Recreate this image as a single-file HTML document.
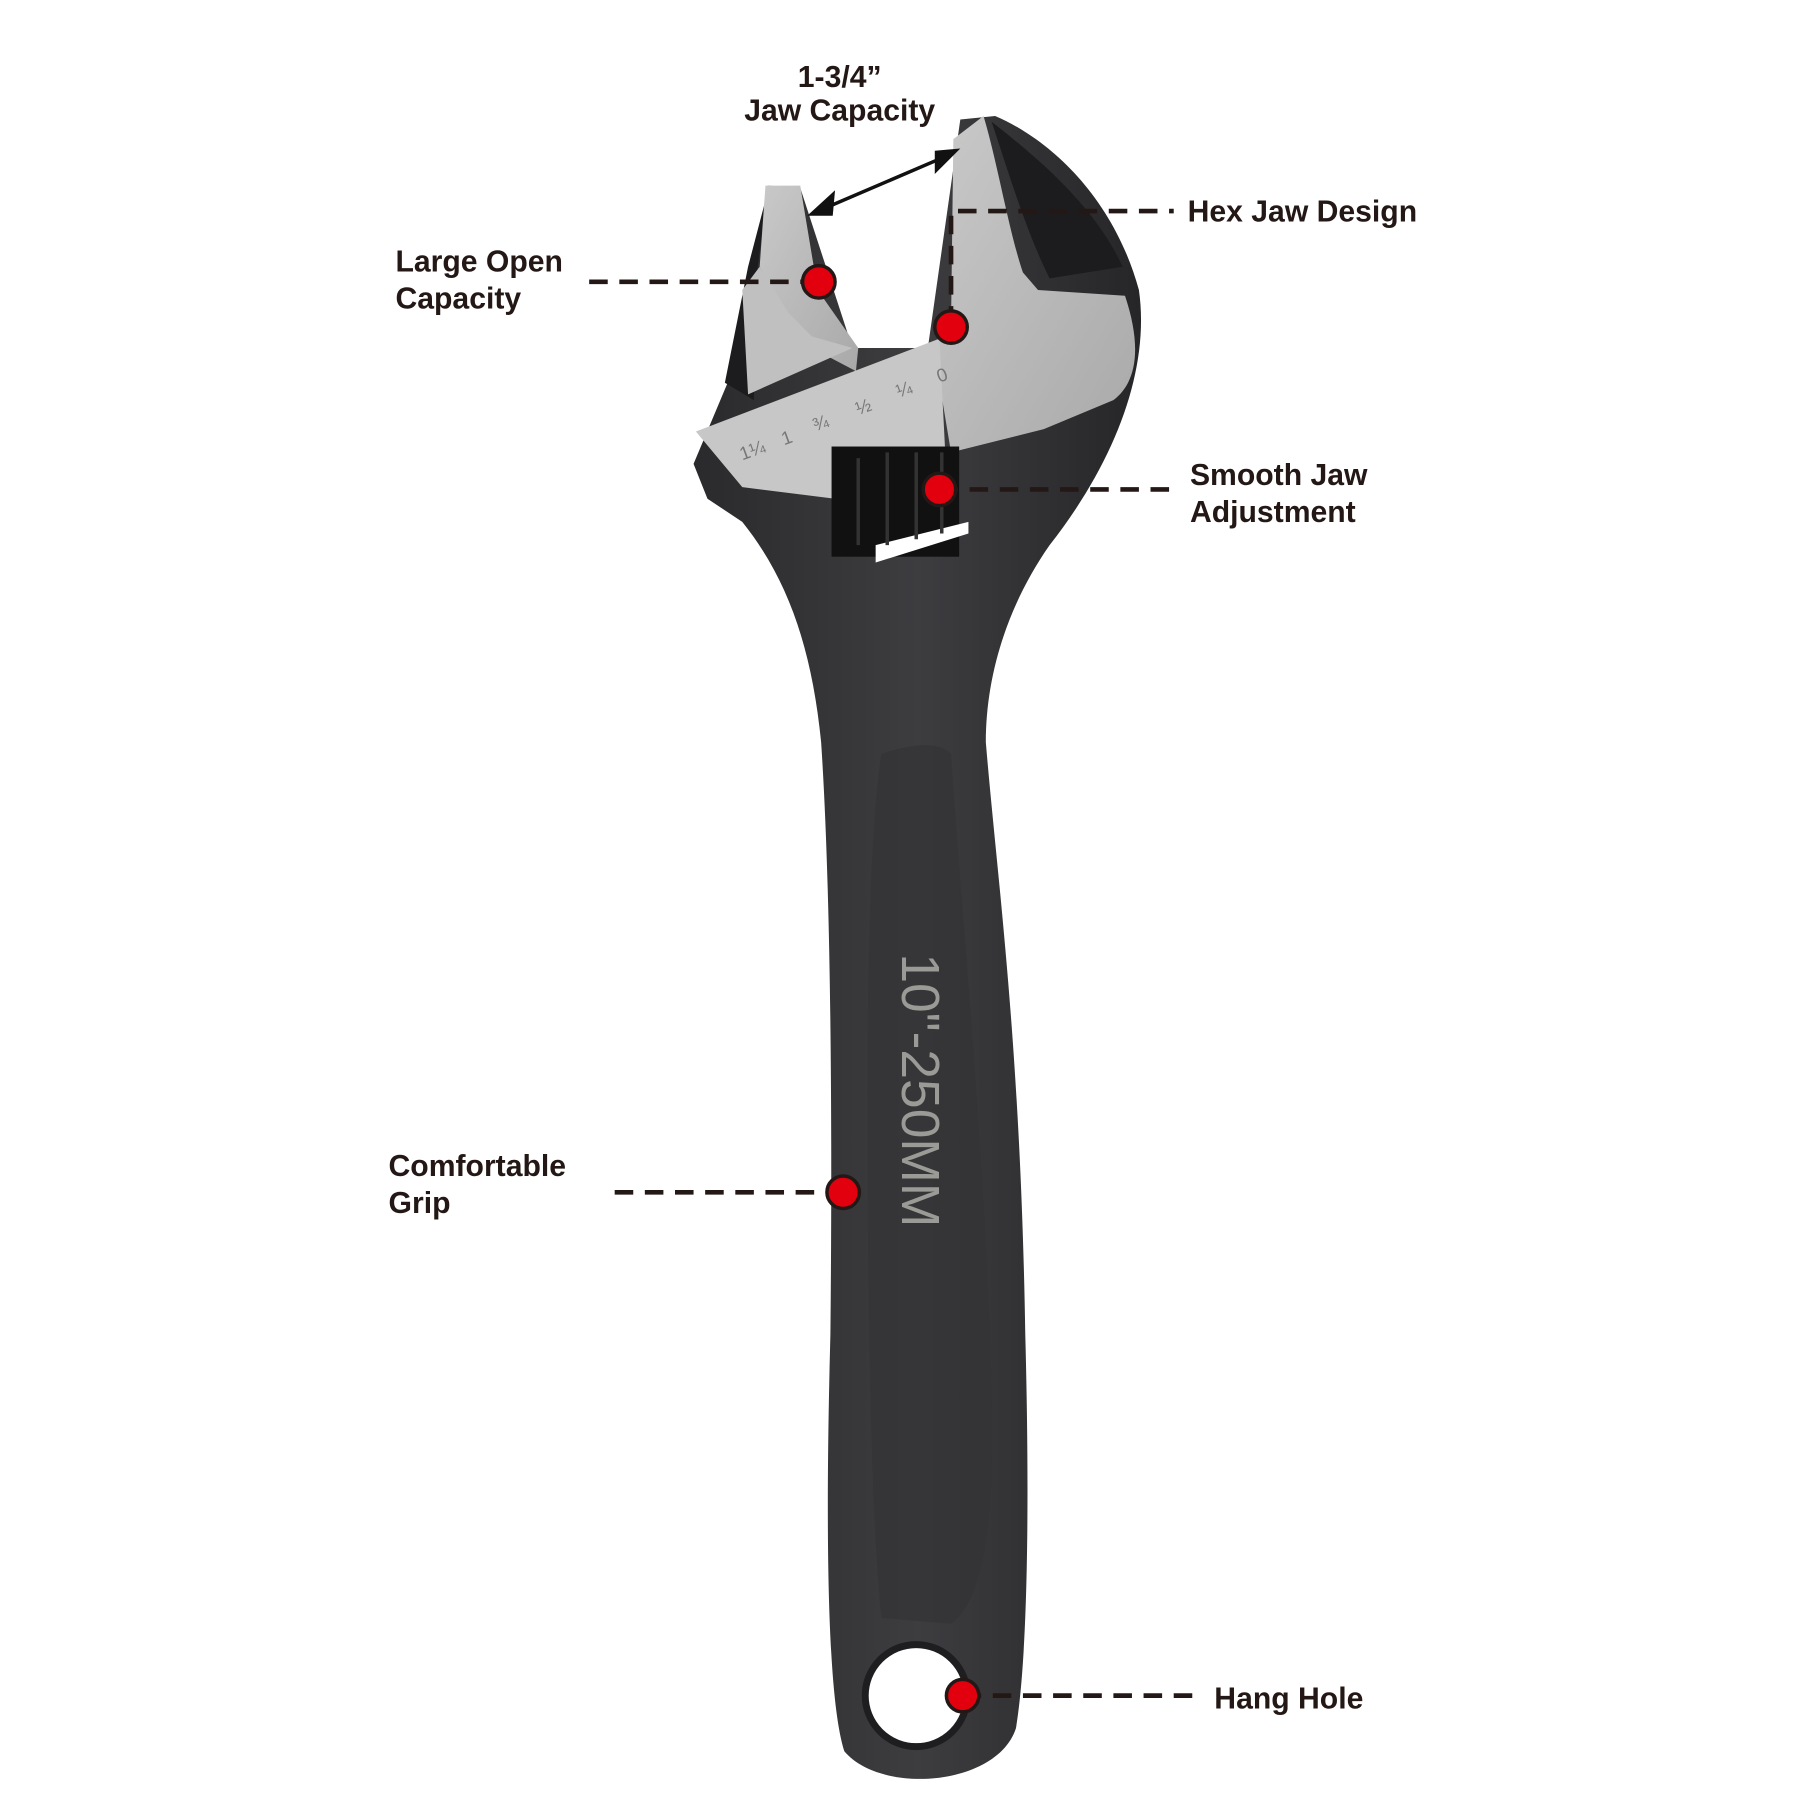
<!DOCTYPE html>
<html><head><meta charset="utf-8"><style>
html,body{margin:0;padding:0;background:#fff;width:1800px;height:1800px;overflow:hidden}
svg{display:block}
.l{font-family:"Liberation Sans",sans-serif;font-weight:bold;font-size:26px;fill:#231815}
</style></head><body>
<svg width="1800" height="1800" viewBox="0 0 1552 1552" xmlns="http://www.w3.org/2000/svg">
<defs>
<linearGradient id="hg" x1="0" x2="1"><stop offset="0" stop-color="#2a2a2c"/><stop offset="0.5" stop-color="#3d3d40"/><stop offset="1" stop-color="#262628"/></linearGradient>
<linearGradient id="sv" x1="0" x2="1" y1="0" y2="1"><stop offset="0" stop-color="#c9c9c9"/><stop offset="1" stop-color="#a9a9a9"/></linearGradient>
</defs>
<path d="M828,103 L858,100 C905,120 960,170 982,250 C992,320 960,400 905,470 C870,520 850,580 850,640 C860,760 880,900 884,1150 C888,1300 886,1430 876,1490 C860,1540 760,1548 728,1510 C712,1460 712,1300 716,1150 C718,950 716,760 708,640 C700,560 680,500 640,450 L610,430 L598,400 L640,300 C650,250 655,200 662,160 L690,162 L735,300 L800,300 Z" fill="url(#hg)"/>
<path d="M662,165 L645,230 L625,330 L650,345 L652,240 Z" fill="#1c1c1e"/>
<path d="M760,650 C790,640 810,640 820,650 C830,800 850,1000 855,1200 C858,1300 850,1380 820,1400 L760,1395 C750,1300 748,1100 748,950 C748,800 752,700 760,650 Z" fill="#333336" opacity="0.7"/>
<circle cx="790" cy="1462" r="44" fill="#fff" stroke="#1e1e20" stroke-width="6"/>
<path d="M822,120 L848,100 C860,140 870,200 882,235 L895,250 L970,255 C985,300 980,330 960,345 L900,370 L820,390 L805,300 L820,280 Z" fill="url(#sv)"/>
<path d="M855,105 C900,140 945,180 968,230 L905,240 C885,200 870,150 855,105 Z" fill="#1c1c1e"/>
<path d="M660,160 L690,160 L705,250 L740,300 L738,320 L700,300 L672,260 L655,230 Z" fill="url(#sv)"/>
<path d="M655,230 L640,250 L645,340 L735,300 L700,290 L680,270 Z" fill="#c0c0c0"/>
<path d="M600,372 L810,292 L815,390 L720,430 L640,420 Z" fill="#c7c7c7"/>
<g font-family="Liberation Sans,sans-serif" font-size="16" fill="#777">
<text x="640" y="397" transform="rotate(-20 640 397)">1¼</text>
<text x="676" y="384" transform="rotate(-20 676 384)">1</text>
<text x="703" y="372" transform="rotate(-20 703 372)">¾</text>
<text x="740" y="358" transform="rotate(-20 740 358)">½</text>
<text x="775" y="343" transform="rotate(-20 775 343)">¼</text>
<text x="810" y="330" transform="rotate(-20 810 330)">0</text>
</g>
<rect x="717" y="385" width="110" height="95" fill="#111"/>
<path d="M755,485 L835,460 L835,450 L755,470 Z" fill="#fff"/>
<g stroke="#333" stroke-width="3"><line x1="740" y1="395" x2="740" y2="470"/><line x1="765" y1="390" x2="765" y2="470"/><line x1="790" y1="390" x2="790" y2="465"/><line x1="812" y1="390" x2="812" y2="460"/></g>
<text x="790" y="822" transform="rotate(90 790 822)" font-family="Liberation Sans,sans-serif" font-size="46" fill="#9a9a96" dominant-baseline="middle">10"-250MM</text>
<line x1="710" y1="180" x2="815" y2="135" stroke="#111" stroke-width="3"/>
<path d="M696,186 L720,164 L718,186 Z" fill="#111"/>
<path d="M828,128 L806,150 L806,130 Z" fill="#111"/>
<g stroke="#231815" stroke-width="4" stroke-dasharray="16,10" fill="none">
<path d="M508,243 L706,243"/>
<path d="M820,280 L820,182 L1012,182"/>
<path d="M810,422 L1012,422"/>
<path d="M530,1028 L727,1028"/>
<path d="M830,1462 L1030,1462"/>
</g>
<g fill="#e2000f" stroke="#231815" stroke-width="3">
<circle cx="706" cy="243" r="14"/><circle cx="820" cy="282" r="14"/><circle cx="810" cy="422" r="14"/><circle cx="727" cy="1028" r="14"/><circle cx="830" cy="1462" r="14"/>
</g>
<text class="l" x="724" y="75" text-anchor="middle">1-3/4”</text>
<text class="l" x="724" y="104" text-anchor="middle">Jaw Capacity</text>
<text class="l" x="341" y="234">Large Open</text>
<text class="l" x="341" y="266">Capacity</text>
<text class="l" x="1024" y="191">Hex Jaw Design</text>
<text class="l" x="1026" y="418">Smooth Jaw</text>
<text class="l" x="1026" y="450">Adjustment</text>
<text class="l" x="335" y="1014">Comfortable</text>
<text class="l" x="335" y="1046">Grip</text>
<text class="l" x="1047" y="1473">Hang Hole</text>
</svg>
</body></html>
